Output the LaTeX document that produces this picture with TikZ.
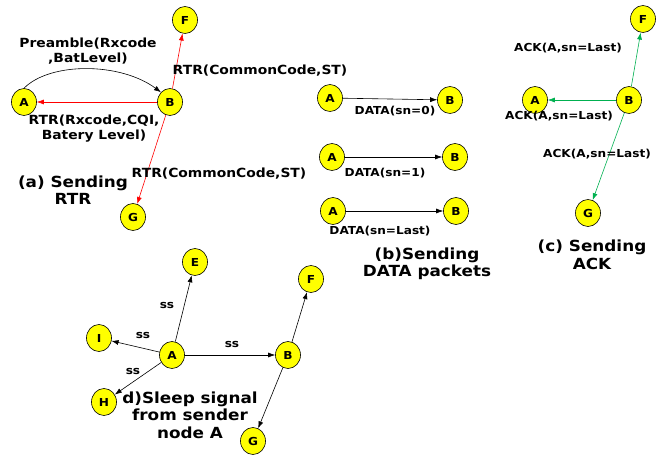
\documentclass[tikz,border=0pt]{standalone}
\usepackage{fontspec}
\setmainfont{DejaVu Sans}[FakeStretch=1.1]
\usetikzlibrary{arrows.meta,shapes.geometric}
\definecolor{nodeyel}{RGB}{255,255,0}
\definecolor{ackgreen}{RGB}{0,176,80}
\definecolor{rtrred}{RGB}{255,0,0}
\tikzset{
  nd/.style={ellipse,draw=black,line width=0.6pt,fill=nodeyel,minimum width=25pt,minimum height=27pt,inner sep=0pt,font=\bfseries\fontsize{11}{11}\selectfont},
  lab/.style={font=\bfseries\fontsize{12.6}{15}\selectfont,align=center,inner sep=0pt},
  slab/.style={font=\bfseries\fontsize{11}{12}\selectfont,inner sep=0pt},
  captxt/.style={font=\bfseries\fontsize{15.3}{17.5}\selectfont,align=center,inner sep=0pt},
  arr/.style={-{Latex[length=7pt,width=5pt]},line width=0.6pt},
  redarr/.style={arr,draw=rtrred,-{Latex[length=7pt,width=5pt,color=rtrred]}},
  grnarr/.style={arr,draw=ackgreen,-{Latex[length=7pt,width=5pt,color=ackgreen]}},
}
\begin{document}
\begin{tikzpicture}[x=1pt,y=-1pt]
\useasboundingbox (0,0) rectangle (659,457);
% (a)
\node[nd] (aA) at (24,102) {A};
\node[nd] (aB) at (170,102) {B};
\node[nd] (aF) at (185,20) {F};
\node[nd] (aG) at (133,217) {G};
\draw[arr] (aA.north) .. controls (50,62) and (120,62) .. (aB.north west);
\draw[redarr] (aB) -- (aA);
\draw[redarr] (aB) -- (aF);
\draw[redarr] (aB) -- (aG);
\node[lab] (la1) at (88,51) {Preamble(Rxcode\\,BatLevel)};
\node[lab] (la2) at (260,71) {RTR(CommonCode,ST)};
\node[lab] (la3) at (94,129) {RTR(Rxcode,CQI,\\Batery Level)};
\node[lab] (la4) at (219,174) {RTR(CommonCode,ST)};
\node[captxt] (ca) at (73,190) {(a) Sending\\RTR};
% (b)
\node[nd] (b1A) at (330,98) {A};
\node[nd] (b1B) at (450,100) {B};
\draw[arr] (b1A) -- (b1B);
\node[slab] (lb1) at (395,111) {DATA(sn=0)};
\node[nd] (b2A) at (332,157) {A};
\node[nd] (b2B) at (455,157) {B};
\draw[arr] (b2A) -- (b2B);
\node[slab] (lb2) at (385,173) {DATA(sn=1)};
\node[nd] (b3A) at (333,211) {A};
\node[nd] (b3B) at (456,211) {B};
\draw[arr] (b3A) -- (b3B);
\node[slab] (lb3) at (380,231) {DATA(sn=Last)};
\node[captxt] (cb) at (427,264) {(b)Sending\\DATA packets};
% (c)
\node[nd] (cF) at (643,19) {F};
\node[nd] (cA) at (535,100) {A};
\node[nd] (cB) at (629,100) {B};
\node[nd] (cG) at (588,213) {G};
\draw[grnarr] (cB) -- (cF);
\draw[grnarr] (cB) -- (cA);
\draw[grnarr] (cB) -- (cG);
\node[slab] (lc1) at (568,48) {ACK(A,sn=Last)};
\node[slab] (lc2) at (559,116) {ACK(A,sn=Last)};
\node[slab] (lc3) at (597,154) {ACK(A,sn=Last)};
\node[captxt] (cc) at (592,255) {(c) Sending\\ACK};
% (d)
\node[nd] (dE) at (195,262) {E};
\node[nd] (dI) at (99,338) {I};
\node[nd] (dA) at (172,355) {A};
\node[nd] (dB) at (288,355) {B};
\node[nd] (dF) at (311,279) {F};
\node[nd] (dH) at (104,402) {H};
\node[nd] (dG) at (253,441) {G};
\draw[arr] (dA) -- (dE);
\draw[arr] (dA) -- (dI);
\draw[arr] (dA) -- (dH);
\draw[arr] (dA) -- (dB);
\draw[arr] (dB) -- (dF);
\draw[arr] (dB) -- (dG);
\node[slab] (ld1) at (167,305) {ss};
\node[slab] (ld2) at (143,335) {ss};
\node[slab] (ld3) at (133,371) {ss};
\node[slab] (ld4) at (232,344) {ss};
\node[captxt] (cd) at (190,415) {d)Sleep signal\\from sender\\node A};
\end{tikzpicture}
\end{document}
